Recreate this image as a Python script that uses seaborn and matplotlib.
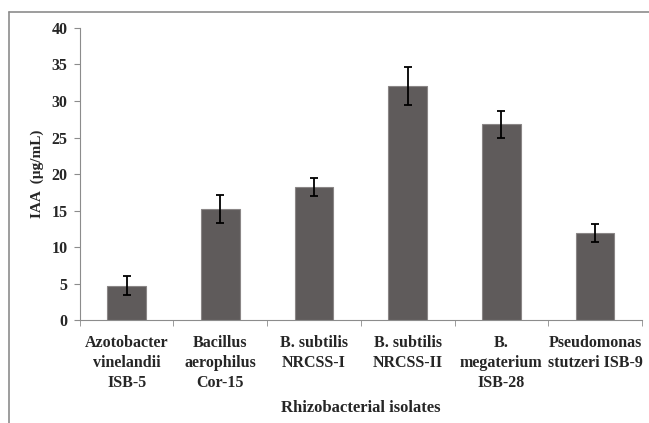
import matplotlib
matplotlib.use('Agg')
import matplotlib.pyplot as plt
import pandas as pd
import seaborn as sns
from matplotlib.lines import Line2D

# Data
isolates = ['Azotobacter\nvinelandii\nISB-5', 'Bacillus\naerophilus\nCor-15', 'B. subtilis\nNRCSS-I',
            'B. subtilis\nNRCSS-II', 'B.\nmegaterium\nISB-28', 'Pseudomonas\nstutzeri ISB-9']
iaa = [4.7, 15.2, 18.2, 32.1, 26.8, 11.9]
iaa_err = [1.3, 1.9, 1.2, 2.6, 1.8, 1.2]

df = pd.DataFrame({'isolate': isolates, 'iaa': iaa, 'err': iaa_err})

sns.set_style('white')
plt.rcParams['font.family'] = ['Liberation Serif', 'DejaVu Serif']
plt.rcParams['font.weight'] = 'bold'

fig = plt.figure(figsize=(6.49, 4.23), dpi=100)
ax = fig.add_axes([0.123, 0.243, 0.866, 0.691])

sns.barplot(data=df, x='isolate', y='iaa', color='#5f5b5b', width=0.41,
            edgecolor='#8a8686', linewidth=0.8, saturation=1, ax=ax)
ax.errorbar(range(len(iaa)), df['iaa'], yerr=df['err'], fmt='none',
            ecolor='black', elinewidth=1.3, capsize=2.8, capthick=1.3)

ax.set_ylim(0, 40)
ax.set_xlim(-0.5, len(iaa) - 0.5)
ax.set_yticks(range(0, 41, 5))

for s in ['top', 'right']:
    ax.spines[s].set_visible(False)
for s in ['left', 'bottom']:
    ax.spines[s].set_color('#8c8c8c')
    ax.spines[s].set_linewidth(0.8)

ax.tick_params(axis='y', left=True, length=4, color='#8c8c8c', labelsize=11.5, pad=5)
ax.tick_params(axis='x', which='major', length=0, labelsize=11.5, pad=11)
ax.set_xticks([i - 0.5 for i in range(len(iaa) + 1)], minor=True)
ax.tick_params(axis='x', which='minor', bottom=True, length=4, color='#8c8c8c')
for lbl in ax.get_xticklabels() + ax.get_yticklabels():
    lbl.set_fontweight('bold')
for lbl in ax.get_xticklabels():
    lbl.set_linespacing(1.3)

ax.set_xlabel('Rhizobacterial isolates', fontsize=12, fontweight='bold', labelpad=7)
ax.set_ylabel('IAA  (µg/mL)', fontsize=11, fontweight='bold', labelpad=5)

# frame lines of the original image
fig.add_artist(Line2D([9 / 649, 1], [1 - 12 / 423, 1 - 12 / 423], color='#8c8c8c', lw=1.2,
                      transform=fig.transFigure))
fig.add_artist(Line2D([9 / 649, 9 / 649], [0, 1 - 12 / 423], color='#8c8c8c', lw=1.2,
                      transform=fig.transFigure))

fig.savefig('out.png', dpi=100)
